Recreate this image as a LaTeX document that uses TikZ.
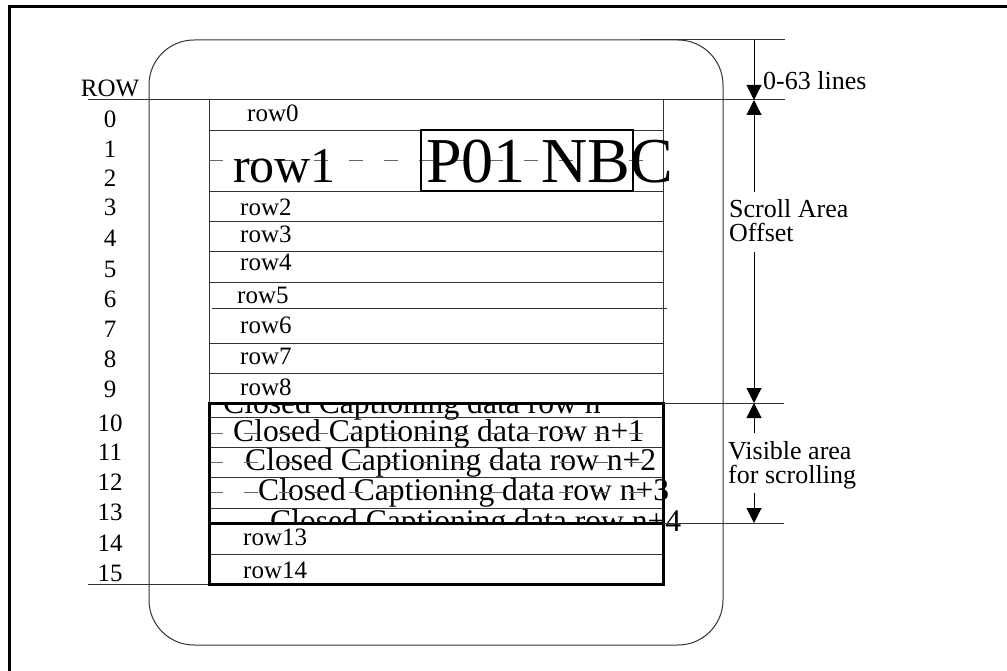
\documentclass[tikz,border=0pt]{standalone}
\usepackage{fontspec}
\setmainfont{Liberation Serif}
\usetikzlibrary{arrows.meta}
\begin{document}
\begin{tikzpicture}[x=1pt,y=-1pt,
  thinline/.style={draw=black!80,line width=1pt},
  thickline/.style={draw=black,line width=3pt},
  lbl/.style={font=\fontsize{25}{25}\selectfont,inner sep=0pt,anchor=base},
  rowtxt/.style={font=\fontsize{25}{25}\selectfont,inner sep=0pt,anchor=base west},
  cctxt/.style={font=\fontsize{31.6}{31.6}\selectfont,inner sep=0pt,anchor=base west},
  strike/.style={draw=black!60,line width=1pt,dash pattern=on 14pt off 21pt},
  dimline/.style={draw=black,line width=1pt,-{Triangle[width=15pt,length=15pt]}},
  dimtxt/.style={font=\fontsize{26}{26}\selectfont,inner sep=0pt,anchor=base west},
]
\useasboundingbox (0,0) rectangle (1007,671);
% outer frame (left and top edges)
\draw[line width=3pt] (9,671) -- (9,7) -- (1007,7);
% rounded screen outline
\draw[thinline,rounded corners=45pt] (149,40) rectangle (723,645);
\coordinate (topA) at (640,40);
\coordinate (topB) at (785,40);
\draw[thinline] (topA) -- (topB);

% closed captioning texts (partly hidden later)
\node[cctxt] (ccn)  at (223,413) {Closed Captioning data row n};
\node[cctxt] (ccn1) at (233,441) {Closed Captioning data row n+1};
\node[cctxt] (ccn2) at (245,470) {Closed Captioning data row n+2};
\node[cctxt] (ccn3) at (258,500) {Closed Captioning data row n+3};
\node[cctxt] (ccn4) at (270,531) {Closed Captioning data row n+4};
% strike lines through rows
\draw[strike] (209,433) -- (663,433);
\draw[strike] (209,462) -- (663,462);
\draw[strike] (209,492) -- (663,492);
% white cells that hide the overflowing text
\fill[white] (209.5,373.5) rectangle (662.5,402);
\fill[white] (210,524) rectangle (662,553);

% ROW axis
\node[lbl] (rowhead) at (110,97) {ROW};
\draw[thinline] (88,100) -- (785,100);
\draw[thinline] (88,584) -- (209,584);
\foreach \n/\y in {0/128,1/158,2/187,3/216,4/247,5/277,6/307,7/337,8/367,9/397}
  \node[lbl] (num\n) at (110,\y) {\n};
\foreach \n/\y in {10/431,11/460,12/490,13/520,14/551,15/581}
  \node[lbl] (num\n) at (110,\y) {\n};

% table upper part
\draw[thinline] (209,100) -- (209,403);
\draw[thinline] (663,100) -- (663,403);
\foreach \y in {131,192,222,252,282,343,373}
  \draw[thinline] (209,\y) -- (663,\y);
\draw[thinline] (212,308) -- (667,308);
% dashed strike of row1
\draw[strike] (209,161) -- (663,161);

\node[rowtxt] (r0) at (247,122) {row0};
\node[rowtxt,font=\fontsize{50}{50}\selectfont] (r1) at (233,183) {row1};
\draw[line width=2.5pt] (421,130) rectangle (633,191);
\node[rowtxt,font=\fontsize{64}{64}\selectfont] (p01) at (426,183) {P01 NBC};
\node[rowtxt] (r2) at (240,216) {row2};
\node[rowtxt] (r3) at (240,243) {row3};
\node[rowtxt] (r4) at (240,270) {row4};
\node[rowtxt] (r5) at (237,303) {row5};
\node[rowtxt] (r6) at (240,333) {row6};
\node[rowtxt] (r7) at (240,364) {row7};
\node[rowtxt] (r8) at (240,395) {row8};

% caption area
\foreach \y in {417,447,477,508,554}
  \draw[thinline] (209,\y) -- (663,\y);
\draw[thickline] (209,403) rectangle (663,584);
\draw[thickline] (209,523) -- (663,523);
\draw[thinline] (663,403) -- (784,403);
\draw[thinline] (663,523) -- (784,523);
\node[rowtxt] (r13) at (243,545) {row13};
\node[rowtxt] (r14) at (243,578) {row14};

% dimension arrows
\coordinate (d0) at (754,40);
\coordinate (d1) at (754,100);
\coordinate (d2) at (754,192);
\coordinate (d3) at (754,252);
\coordinate (d4) at (754,403);
\coordinate (d5) at (754,433);
\coordinate (d6) at (754,493);
\coordinate (d7) at (754,523);
\draw[dimline] (d0) -- (d1);
\draw[dimline] (d2) -- (d1);
\draw[dimline] (d3) -- (d4);
\draw[dimline] (d5) -- (d4);
\draw[dimline] (d6) -- (d7);
\node[dimtxt] (lines) at (763,90) {0-63 lines};
\node[dimtxt] (scroll) at (729,218) {Scroll Area};
\node[dimtxt] (offset) at (729,242) {Offset};
\node[dimtxt] (visible) at (728,459) {Visible area};
\node[dimtxt] (forscr) at (728,483) {for scrolling};
\end{tikzpicture}
\end{document}
